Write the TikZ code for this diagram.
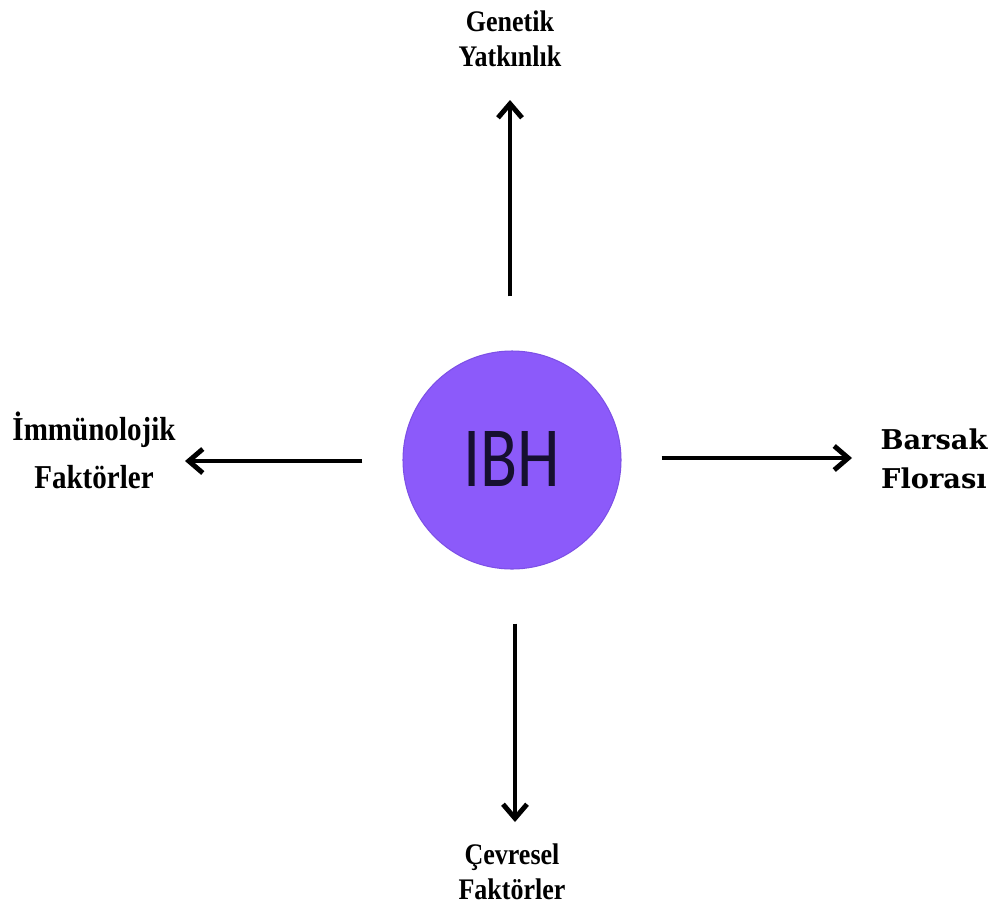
\documentclass[tikz,border=0pt]{standalone}
\usepackage{fontspec}
\setmainfont{Liberation Serif}
\newfontfamily\ibhfont{Carlito}
\newfontfamily\florafont{DejaVu Serif}
\usetikzlibrary{arrows.meta}

\definecolor{ibhpurple}{RGB}{140,90,250}
\definecolor{ibhedge}{RGB}{125,80,230}
\definecolor{ibhtext}{RGB}{22,16,48}

% squeezed two-line label
\newcommand{\twolines}[3]{\scalebox{#1}[1]{\begin{tabular}{@{}c@{}}#2\\#3\end{tabular}}}

\tikzset{
    factor/.style={align=center, inner sep=0pt},
    arrow/.style={-{Straight Barb[length=0.28cm, width=0.48cm, line width=2.8pt]}, line width=2.8pt},
}

\begin{document}
\begin{tikzpicture}
            % Frame
            \useasboundingbox (0, 0) rectangle (19.92, -18.18);

            % Center
            \node[circle, fill=ibhpurple, draw=ibhedge, line width=0.6pt, minimum size=4.36cm,
                  text=ibhtext, font=\ibhfont\fontsize{40}{44}\selectfont] (ibh) at (10.24, -9.2)
                  {\raisebox{0.06cm}{\scalebox{0.97}[1.22]{IBH}}};

            % Factors
            \node[factor, font=\bfseries\fontsize{17}{20}\selectfont] (genetik) at (10.2, -0.84)
                  {\twolines{0.87}{Genetik}{Yatkınlık}};
            \node[factor, font=\bfseries\fontsize{19}{27}\selectfont] (immun) at (1.88, -9.1)
                  {\twolines{0.87}{İmmünolojik}{Faktörler}};
            \node[factor, font=\florafont\bfseries\fontsize{15.5}{22.7}\selectfont] (flora) at (18.68, -9.22)
                  {\twolines{1}{Barsak}{Florası}};
            \node[factor, font=\bfseries\fontsize{17}{20}\selectfont] (cevre) at (10.24, -17.5)
                  {\twolines{0.87}{Çevresel}{Faktörler}};

            % Arrows
            \coordinate (uptip) at (10.2, -2.0);
            \coordinate (lefttip) at (3.7, -9.22);
            \coordinate (righttip) at (17.04, -9.16);
            \coordinate (downtip) at (10.3, -16.44);

            \draw[arrow, shorten <=1.08cm] (ibh.north -| uptip) -- (uptip);
            \draw[arrow, shorten <=0.8cm] (ibh.west |- lefttip) -- (lefttip);
            \draw[arrow, shorten <=0.8cm] (ibh.east |- righttip) -- (righttip);
            \draw[arrow, shorten <=1.08cm] (ibh.south -| downtip) -- (downtip);
        \end{tikzpicture}
\end{document}
